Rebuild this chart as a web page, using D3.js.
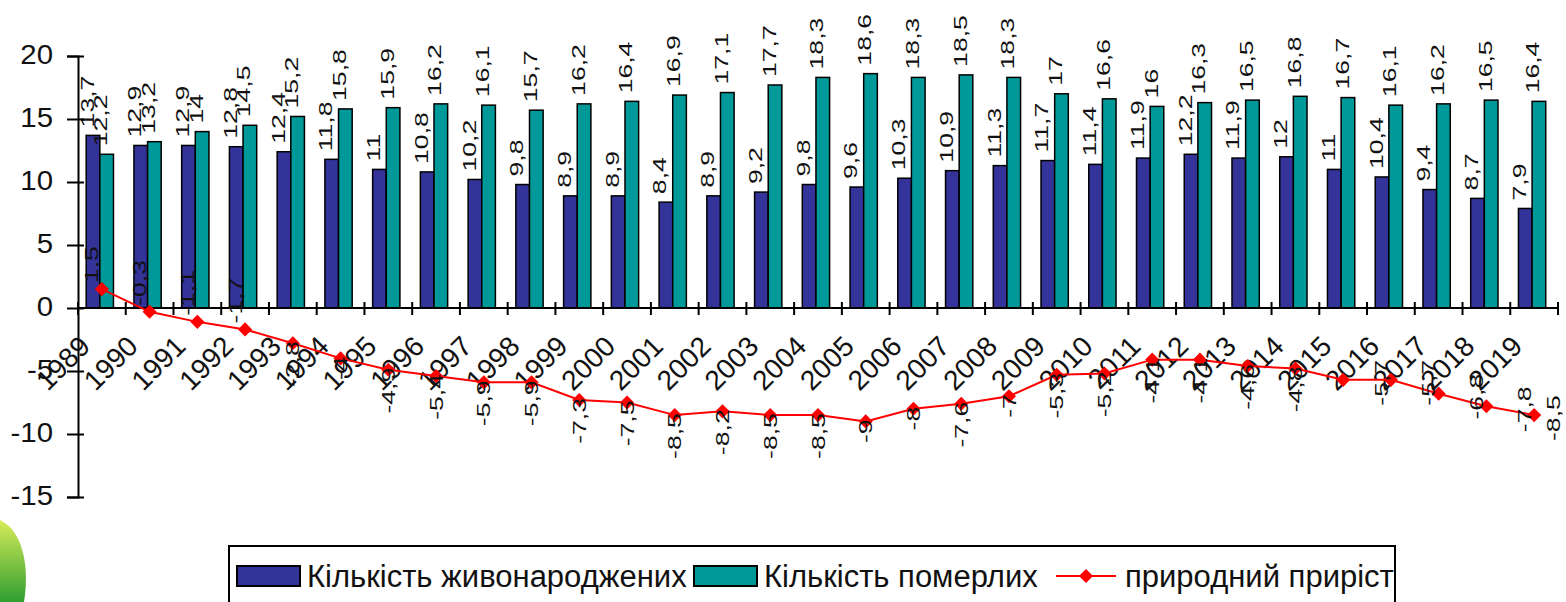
<!DOCTYPE html>
<html>
<head>
<meta charset="utf-8">
<script src="https://cdn.jsdelivr.net/npm/d3@7"></script>
<style>
  body { margin: 0; background: #fff; overflow: hidden; }
  svg text { font-family: Arial, "Liberation Sans", sans-serif; fill: #111; }
</style>
</head>
<body>
<div class="container"></div>
<script>
const years = ['1989', '1990', '1991', '1992', '1993', '1994', '1995', '1996', '1997', '1998',
               '1999', '2000', '2001', '2002', '2003', '2004', '2005', '2006', '2007', '2008',
               '2009', '2010', '2011', '2012', '2013', '2014', '2015', '2016', '2017', '2018', '2019'];
const births = [13.7, 12.9, 12.9, 12.8, 12.4, 11.8, 11, 10.8, 10.2, 9.8,
                8.9, 8.9, 8.4, 8.9, 9.2, 9.8, 9.6, 10.3, 10.9, 11.3,
                11.7, 11.4, 11.9, 12.2, 11.9, 12, 11, 10.4, 9.4, 8.7, 7.9];
const deaths = [12.2, 13.2, 14, 14.5, 15.2, 15.8, 15.9, 16.2, 16.1, 15.7,
                16.2, 16.4, 16.9, 17.1, 17.7, 18.3, 18.6, 18.3, 18.5, 18.3,
                17, 16.6, 16, 16.3, 16.5, 16.8, 16.7, 16.1, 16.2, 16.5, 16.4];
const natural = [1.5, -0.3, -1.1, -1.7, -2.8, -4, -4.9, -5.4, -5.9, -5.9,
                 -7.3, -7.5, -8.5, -8.2, -8.5, -8.5, -9, -8, -7.6, -7,
                 -5.3, -5.2, -4.1, -4.1, -4.6, -4.8, -5.7, -5.7, -6.8, -7.8, -8.5];
const yTicks = [-15, -10, -5, 0, 5, 10, 15, 20];
const seriesNames = ['Кількість живонароджених', 'Кількість померлих', 'природний приріст'];

const width = 1566;
const height = 602;
const colors = { births: '#333399', deaths: '#009999', line: '#ff0000' };
const fmt = v => String(v).replace('.', ',');

const svg = d3.select('.container')
    .append('svg')
    .attr('width', width)
    .attr('height', height);

// background leaf in the corner (slide decoration)
const defs = svg.append('defs');
const grad = defs.append('linearGradient').attr('id', 'leaf').attr('x1', 0).attr('y1', 0).attr('x2', 0).attr('y2', 1);
grad.append('stop').attr('offset', 0).attr('stop-color', '#d8ec5a');
grad.append('stop').attr('offset', 1).attr('stop-color', '#2f9e2f');
svg.append('path')
    .attr('d', 'M0,520 C22,530 30,565 24,602 L0,602 Z')
    .attr('fill', 'url(#leaf)');

const x = d3.scaleBand().domain(years).range([78, 1558]);
const xSub = d3.scaleBand().domain(['births', 'deaths'])
    .range([0, x.bandwidth()])
    .paddingOuter(0.75)
    .align(0.4);
const y = d3.scaleLinear().domain([-15, 20]).range([497, 56]);

// bars
const groups = svg.append('g')
    .selectAll('g')
    .data(years)
    .join('g')
    .attr('transform', d => `translate(${x(d)},0)`);

const barData = (yr, i) => [
    { key: 'births', value: births[i] },
    { key: 'deaths', value: deaths[i] }
];

groups.selectAll('rect')
    .data(barData)
    .join('rect')
    .attr('x', d => xSub(d.key))
    .attr('y', d => y(d.value))
    .attr('width', xSub.bandwidth())
    .attr('height', d => y(0) - y(d.value))
    .attr('fill', d => colors[d.key])
    .attr('stroke', '#000')
    .attr('stroke-width', 1.5);

groups.selectAll('text.bar-label')
    .data(barData)
    .join('text')
    .attr('class', 'bar-label')
    .attr('transform', d => `translate(${xSub(d.key) + xSub.bandwidth() / 2 - 6},${y(d.value) - 8}) rotate(-90) scale(1.4,1)`)
    .attr('dominant-baseline', 'central')
    .attr('font-size', 19)
    .text(d => fmt(d.value));

// axes
const yAxis = svg.append('g')
    .attr('transform', 'translate(78,0)')
    .call(d3.axisLeft(y).tickValues(yTicks).tickFormat(d => String(d)).tickSize(11));
yAxis.select('.domain').attr('stroke', '#000').attr('stroke-width', 2);
yAxis.selectAll('.tick line').attr('x1', 6).attr('stroke', '#000').attr('stroke-width', 2);
yAxis.selectAll('.tick text')
    .attr('x', -25 / 1.05)
    .attr('dy', '0.25em')
    .attr('transform', 'scale(1.05,1)')
    .attr('font-size', 28)
    .attr('font-family', 'Arial, "Liberation Sans", sans-serif')
    .attr('fill', '#222');

const xAxis = svg.append('g');
xAxis.append('line')
    .attr('x1', x.range()[0]).attr('x2', x.range()[1])
    .attr('y1', y(0)).attr('y2', y(0))
    .attr('stroke', '#000').attr('stroke-width', 2);
xAxis.selectAll('line.tick')
    .data(years.concat(['end']))
    .join('line')
    .attr('class', 'tick')
    .attr('x1', d => d === 'end' ? x.range()[1] : x(d))
    .attr('x2', d => d === 'end' ? x.range()[1] : x(d))
    .attr('y1', y(0) - 6).attr('y2', y(0) + 7)
    .attr('stroke', '#000').attr('stroke-width', 2);
xAxis.selectAll('text')
    .data(years)
    .join('text')
    .attr('transform', d => `translate(${x(d) + x.bandwidth() / 2 - 10},348) rotate(-45)`)
    .attr('text-anchor', 'end')
    .attr('font-size', 28)
    .attr('fill', '#222')
    .text(d => d);

// natural increase line
const cx = i => x(years[i]) + x.bandwidth() / 2;
const line = d3.line()
    .x((d, i) => cx(i))
    .y(d => y(d));

svg.append('path')
    .datum(natural)
    .attr('d', line)
    .attr('fill', 'none')
    .attr('stroke', colors.line)
    .attr('stroke-width', 2);

svg.append('g')
    .selectAll('path')
    .data(natural)
    .join('path')
    .attr('d', d3.symbol(d3.symbolSquare, 100))
    .attr('transform', (d, i) => `translate(${cx(i)},${y(d)}) rotate(45)`)
    .attr('fill', colors.line);

// point labels: first ones above, most below, last ones to the right
svg.append('g')
    .selectAll('text')
    .data(natural)
    .join('text')
    .attr('transform', (d, i) => {
        let px = cx(i), py = y(d);
        if (i < 4) { px -= 10; py -= 6; }
        else if (i < 26) { py -= 2; }
        else { px = Math.min(px + 38, 1553); py += 3; }
        return `translate(${px},${py}) rotate(-90) scale(1.4,1)`;
    })
    .attr('text-anchor', (d, i) => i < 4 ? 'start' : (i < 26 ? 'end' : 'middle'))
    .attr('dominant-baseline', 'central')
    .attr('font-size', 19)
    .text(d => fmt(d));

// legend
const legend = svg.append('g');
legend.append('rect')
    .attr('x', 229).attr('y', 546)
    .attr('width', 1166).attr('height', 70)
    .attr('fill', '#fff')
    .attr('stroke', '#000')
    .attr('stroke-width', 2);

const legendItems = [
    { name: seriesNames[0], type: 'bar', color: colors.births, x: 237 },
    { name: seriesNames[1], type: 'bar', color: colors.deaths, x: 694 },
    { name: seriesNames[2], type: 'line', color: colors.line, x: 1056 }
];
const li = legend.selectAll('g')
    .data(legendItems)
    .join('g')
    .attr('transform', d => `translate(${d.x},576)`);

li.filter(d => d.type === 'bar').append('rect')
    .attr('x', 0).attr('y', -10)
    .attr('width', 63).attr('height', 20)
    .attr('fill', d => d.color)
    .attr('stroke', '#000').attr('stroke-width', 2);
li.filter(d => d.type === 'line').append('line')
    .attr('x1', 0).attr('x2', 60).attr('y1', 0).attr('y2', 0)
    .attr('stroke', d => d.color).attr('stroke-width', 2);
li.filter(d => d.type === 'line').append('path')
    .attr('d', d3.symbol(d3.symbolSquare, 100))
    .attr('transform', 'translate(30,0) rotate(45)')
    .attr('fill', d => d.color);
li.append('text')
    .attr('x', d => d.type === 'bar' ? 70 : 69)
    .attr('y', 0)
    .attr('dominant-baseline', 'central')
    .attr('font-size', 31)
    .text(d => d.name);
</script>
</body>
</html>
